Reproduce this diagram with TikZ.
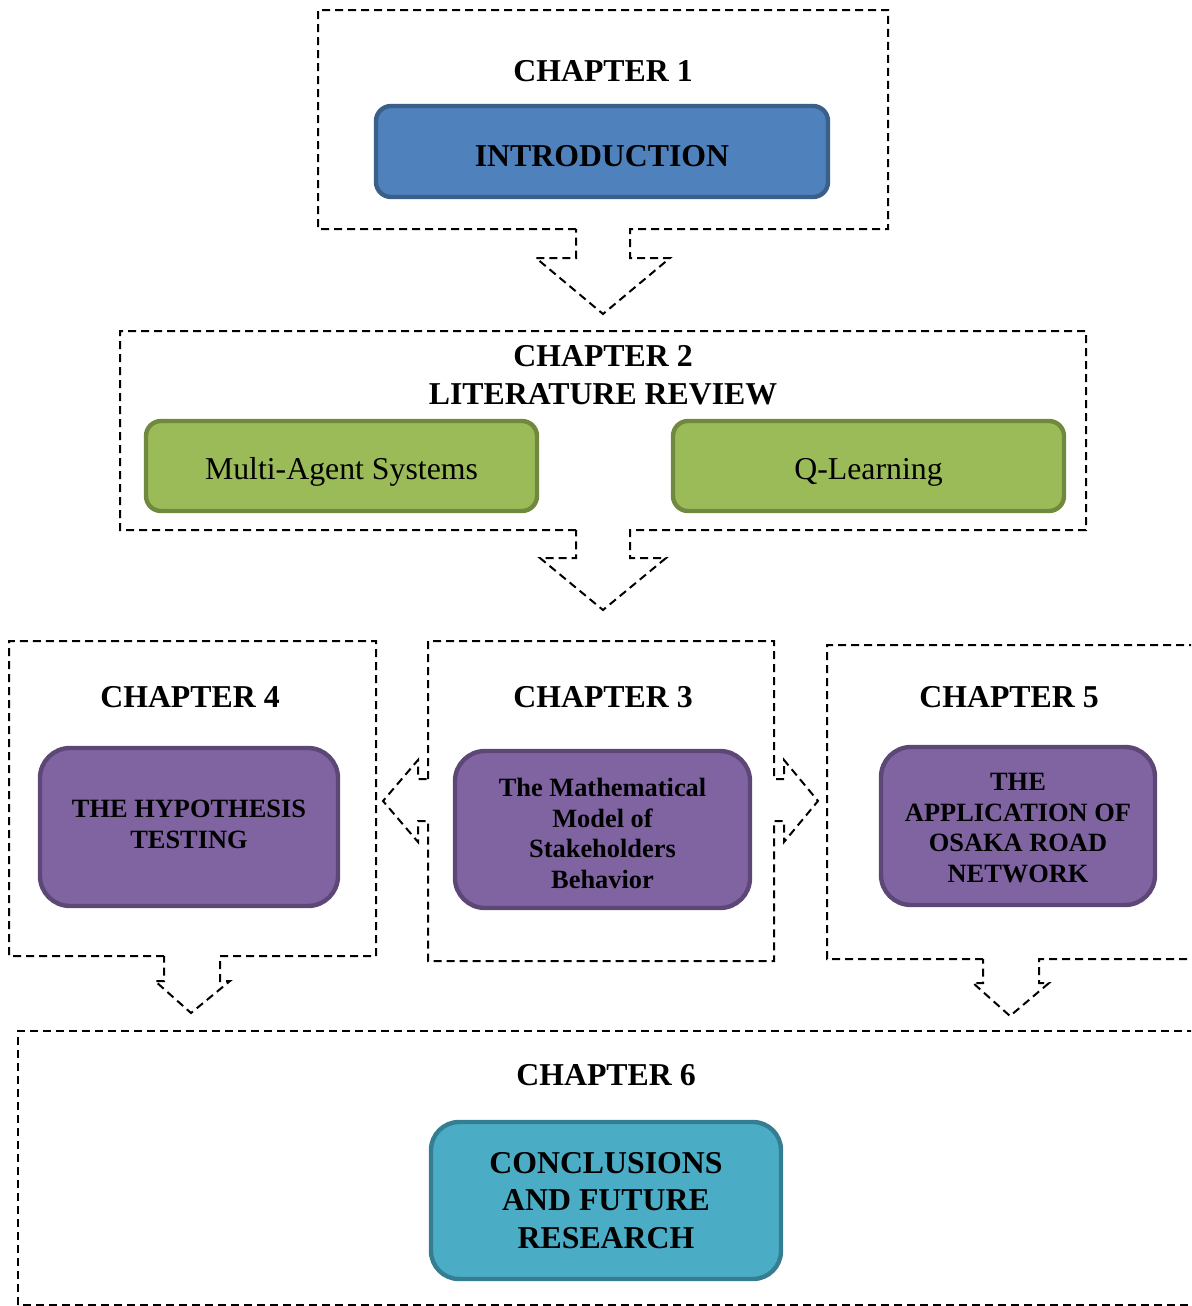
\documentclass[tikz,border=0pt]{standalone}
\usepackage{fontspec}
\setmainfont{Liberation Serif}
\newcommand{\dgHead}{\bfseries\fontsize{15.9}{18.8}\selectfont}
\newcommand{\dgSmall}{\bfseries\fontsize{13.2}{15.3}\selectfont}
\newcommand{\dgPlain}{\fontsize{15.9}{18.8}\selectfont}
\definecolor{introfill}{HTML}{4F81BD}
\definecolor{introline}{HTML}{3A5F8B}
\definecolor{litfill}{HTML}{9BBB59}
\definecolor{litline}{HTML}{71893F}
\definecolor{chapfill}{HTML}{8064A2}
\definecolor{chapline}{HTML}{5C4776}
\definecolor{endfill}{HTML}{4BACC6}
\definecolor{endline}{HTML}{357D91}
\begin{document}
\begin{tikzpicture}[x=0.5pt,y=-0.5pt,
  frame/.style={draw=black, line width=1pt, dash pattern=on 4pt off 2.5pt, line join=miter},
  title/.style={inner sep=0pt, align=center, font=\dgHead},
  card/.style={line width=2.2pt, inner sep=0pt, align=center},
  introbox/.style={card, draw=introline, fill=introfill, rounded corners=7.5pt, font=\dgHead,
    text height=14.5pt, text depth=0pt},
  litbox/.style={card, draw=litline, fill=litfill, rounded corners=7.5pt, font=\dgPlain,
    minimum width=195.5pt, minimum height=45pt, text height=17pt, text depth=3.5pt},
  chapbox/.style={card, draw=chapline, fill=chapfill, rounded corners=15pt, font=\dgSmall},
  endbox/.style={card, draw=endline, fill=endfill, rounded corners=14pt, font=\dgHead}
]
\useasboundingbox (0,0) rectangle (1191,1306);
\clip (0,0) rectangle (1191,1306);

% chapter frames with their dashed arrows
\draw[frame] (576,229) -- (318,229) -- (318,10) -- (888,10) -- (888,229) -- (630,229)
  -- (630,258) -- (670,258) -- (603,314) -- (536,258) -- (576,258) -- cycle;
\draw[frame] (576,530) -- (120,530) -- (120,331) -- (1086,331) -- (1086,530) -- (630,530)
  -- (630,558) -- (666,558) -- (603,610) -- (540,558) -- (576,558) -- cycle;
\draw[frame] (428,779) -- (428,641) -- (774,641) -- (774,779) -- (784,779) -- (784,760)
  -- (818,801) -- (784,842) -- (784,821) -- (774,821) -- (774,961) -- (428,961)
  -- (428,821) -- (418,821) -- (418,842) -- (383,801) -- (418,760) -- (418,779) -- cycle;
\draw[frame] (164,956) -- (9,956) -- (9,641) -- (376,641) -- (376,956) -- (220,956)
  -- (220,981) -- (230,981) -- (191,1013) -- (155,981) -- (164,981) -- cycle;
\draw[frame] (983,959) -- (827,959) -- (827,645) -- (1200,645) -- (1200,959) -- (1039,959)
  -- (1039,983) -- (1049,983) -- (1010,1016) -- (973,983) -- (983,983) -- cycle;
\draw[frame] (18,1305) -- (18,1031) -- (1200,1031) -- (1200,1305) -- cycle;

% chapter 1
\node[title] (t1) at (603,71) {CHAPTER 1};
\node[introbox, minimum width=226pt, minimum height=45.5pt] (intro) at (602,151.5) {INTRODUCTION};

% chapter 2
\node[title] (t2) at (603,375) {CHAPTER 2\\LITERATURE REVIEW};
\node[litbox] (mas) at (341.5,466) {Multi-Agent Systems};
\node[litbox] (ql) at (868.5,466) {Q-Learning};

% chapters 4, 3, 5
\node[title] (t4) at (190,697) {CHAPTER 4};
\node[title] (t3) at (603,697) {CHAPTER 3};
\node[title] (t5) at (1009,697) {CHAPTER 5};
\node[chapbox, minimum width=149pt, minimum height=79pt, text height=21.7pt] (hyp) at (189,827)
  {THE HYPOTHESIS\\TESTING};
\node[chapbox, minimum width=147.5pt, minimum height=78.5pt, text height=58.9pt] (model) at (602.5,829.5)
  {The Mathematical\\Model of\\Stakeholders\\Behavior};
\node[chapbox, minimum width=137pt, minimum height=79pt, text height=56.7pt] (osaka) at (1018,826)
  {THE\\APPLICATION OF\\OSAKA ROAD\\NETWORK};

% chapter 6
\node[title] (t6) at (606,1075) {CHAPTER 6};
\node[endbox, minimum width=175pt, minimum height=78.5pt] (concl) at (606,1200.5)
  {CONCLUSIONS\\AND FUTURE\\RESEARCH};
\end{tikzpicture}
\end{document}
